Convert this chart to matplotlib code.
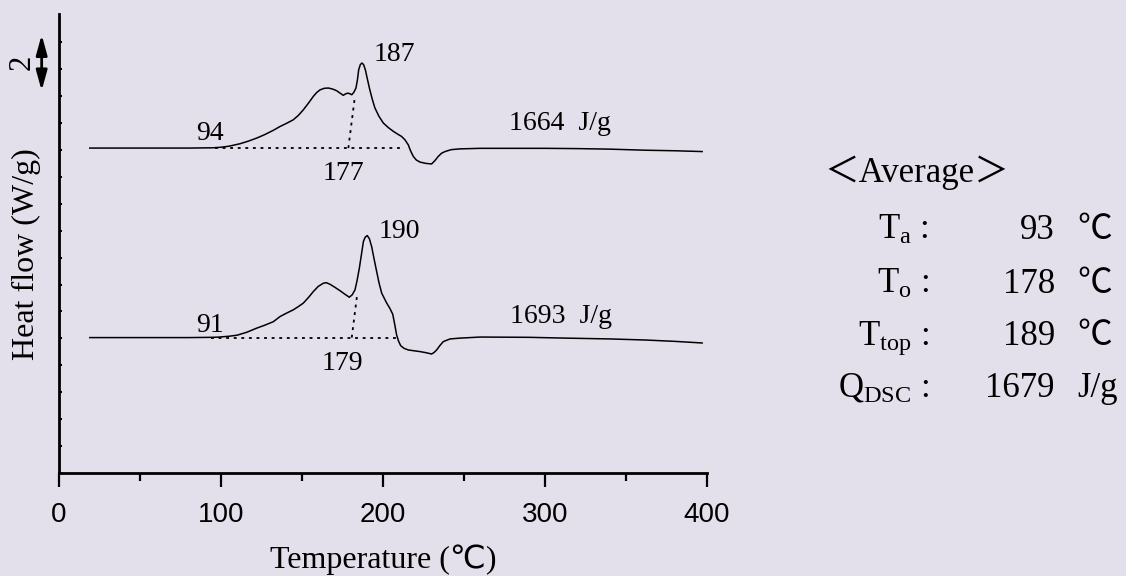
import matplotlib
matplotlib.use("Agg")
import matplotlib.pyplot as plt

plt.rcParams["font.family"] = ["Liberation Serif", "DejaVu Serif", "DejaVu Sans"]
plt.rcParams["mathtext.fontset"] = "custom"
plt.rcParams["mathtext.rm"] = "Liberation Serif"
plt.rcParams["mathtext.it"] = "Liberation Serif:italic"

BG = "#E3E0EB"

# run 1 (upper trace), temperature in degC and heat flow in W/g (offset)
temp_1 = [19, 40, 60, 80, 95, 100, 105, 111.7, 117, 122, 127, 132.3, 136.4,
          140.5, 144.6, 147.7, 150.8, 154, 157, 159, 161.1, 163.7, 166.3, 169,
          171.4, 173.5, 175.5, 176.8, 178.2, 179.5, 180.7, 182, 183.3, 184.2,
          185, 186, 187, 188, 189.1, 190.3, 191.6, 193.3, 195, 197.5, 200.2,
          203.3, 206.4, 209, 211.5, 213.5, 215.6, 217, 218.7, 220.5, 222.8,
          226.5, 230, 232, 234.1, 236.2, 238.3, 242, 247.5, 260, 280, 300,
          320, 340, 362, 380, 397]
flow_1 = [12.07, 12.07, 12.07, 12.07, 12.08, 12.10, 12.14, 12.23, 12.33, 12.44,
          12.57, 12.73, 12.87, 12.99, 13.12, 13.28, 13.49, 13.74, 13.99, 14.13,
          14.23, 14.29, 14.30, 14.26, 14.20, 14.11, 14.03, 14.08, 14.11, 14.09,
          14.05, 14.14, 14.30, 14.60, 14.98, 15.17, 15.23, 15.17, 14.98, 14.65,
          14.30, 13.90, 13.56, 13.25, 13.00, 12.83, 12.69, 12.59, 12.50, 12.38,
          12.19, 11.97, 11.76, 11.63, 11.55, 11.50, 11.48, 11.60, 11.76, 11.88,
          11.94, 12.01, 12.04, 12.06, 12.06, 12.06, 12.05, 12.03, 11.99, 11.97,
          11.94]

# run 2 (lower trace)
temp_2 = [19, 40, 60, 80, 95, 99, 105, 110, 116, 122, 127, 132.3, 136.4, 140.5,
          144.6, 147.7, 150.8, 154, 157, 160, 163.2, 165, 167.3, 170.5, 173.5,
          176.5, 179.2, 181, 182.7, 184, 185.4, 186.7, 187.9, 189, 190.3, 191.6,
          193, 194.5, 196.1, 197.6, 199.2, 202.3, 204.2, 206, 207.3, 208.4,
          209.6, 210.9, 213, 215.6, 222.8, 226.5, 230, 231.6, 233.1, 235.2,
          237.2, 241.4, 247.5, 260, 290, 313, 340, 362, 380, 397]
flow_2 = [5.03, 5.03, 5.03, 5.03, 5.04, 5.05, 5.08, 5.12, 5.23, 5.38, 5.49,
          5.62, 5.81, 5.94, 6.06, 6.18, 6.31, 6.52, 6.74, 6.93, 7.05, 7.07,
          7.01, 6.89, 6.77, 6.64, 6.53, 6.62, 6.80, 7.15, 7.61, 8.12, 8.60,
          8.76, 8.82, 8.70, 8.41, 7.95, 7.48, 7.05, 6.68, 6.31, 6.12, 5.90,
          5.50, 5.13, 4.90, 4.73, 4.63, 4.57, 4.51, 4.47, 4.42, 4.48, 4.57,
          4.74, 4.88, 4.98, 5.01, 5.05, 5.04, 5.01, 4.98, 4.94, 4.89, 4.83]

# construction lines: baseline span and onset tangent (x pairs, y pairs)
base_1_x = [96, 213]
base_1_y = [12.07, 12.07]
tang_1_x = [178.6, 182.7]
tang_1_y = [12.07, 14.0]
base_2_x = [94, 208.4]
base_2_y = [5.03, 5.03]
tang_2_x = [180.7, 184.2]
tang_2_y = [5.03, 6.7]

# annotation texts: (text, x, baseline y)
notes = [
    ("94", 93.2, 12.38), ("177", 175.3, 10.89), ("187", 206.8, 15.29),
    ("1664  J/g", 309.3, 12.73),
    ("91", 93.2, 5.25), ("179", 174.7, 3.83), ("190", 209.9, 8.72),
    ("1693  J/g", 310.0, 5.56),
]

avg_labels = [r"$\mathrm{T_a}$ :", r"$\mathrm{T_o}$ :", r"$\mathrm{T_{top}}$ :",
              r"$\mathrm{Q_{DSC}}$ :"]
avg_values = ["93", "178", "189", "1679"]
avg_units = ["℃", "℃", "℃", "J/g"]

W, H = 1126, 576


def fx(px):
    return px / W


def fy(py):
    return 1 - py / H


fig = plt.figure(figsize=(W / 100, H / 100), dpi=100)
fig.patch.set_facecolor(BG)
ax = fig.add_axes([fx(59), fy(473), 648 / W, 459 / H])
ax.set_facecolor(BG)

ax.plot(temp_1, flow_1, color="black", lw=1.1)
ax.plot(temp_2, flow_2, color="black", lw=1.1)
dots = dict(color="black", lw=1.3, linestyle=(0, (1.6, 2.6)))
for xs, ys in ((base_1_x, base_1_y), (tang_1_x, tang_1_y),
               (base_2_x, base_2_y), (tang_2_x, tang_2_y)):
    ax.plot(xs, ys, **dots)

for txt, x, y in notes:
    ax.text(x, y, txt, ha="center", va="baseline", fontsize=20)

ax.set_xlim(0, 400)
ax.set_ylim(0, 17.05)
for side in ("top", "right"):
    ax.spines[side].set_visible(False)
for side in ("left", "bottom"):
    ax.spines[side].set_linewidth(2)

ax.set_xticks([0, 100, 200, 300, 400])
ax.set_xticks([50, 150, 250, 350], minor=True)
ax.tick_params(axis="x", which="major", direction="out", length=10, width=1.6,
               pad=11, labelsize=20)
ax.tick_params(axis="x", which="minor", direction="out", length=6, width=1.6)
for lab in ax.get_xticklabels():
    lab.set_fontfamily("Liberation Sans")
ax.set_yticks(range(0, 17))
ax.tick_params(axis="y", which="major", direction="in", length=2.5, width=1.5,
               labelleft=False)

# scale bar: 2 W/g
ax.annotate("", xy=(-10.7, 14.2), xytext=(-10.7, 16.28),
            arrowprops=dict(arrowstyle="<|-|>,head_length=0.8,head_width=0.22",
                            mutation_scale=15, lw=2, color="black",
                            shrinkA=0, shrinkB=0),
            annotation_clip=False)
ax.text(-23, 15.24, "2", rotation=90, ha="center", va="center", fontsize=22,
        clip_on=False)

fig.text(fx(383), fy(568), "Temperature (℃)", ha="center", va="baseline",
         fontsize=23, family=["Liberation Serif", "DejaVu Sans"])
fig.text(fx(26), fy(254), "Heat flow (W/g)", rotation=90, ha="center",
         va="center", fontsize=23)

# average panel
fig.text(fx(917), fy(182), "＜Average＞", ha="center", va="baseline",
         fontsize=25, family=["Liberation Serif", "Noto Sans CJK JP"])
row_base = [239, 293, 345, 397]
for lab, val, unit, yb in zip(avg_labels, avg_values, avg_units, row_base):
    fig.text(fx(929), fy(yb), lab, ha="right", va="baseline", fontsize=25)
    fig.text(fx(1055), fy(yb), val, ha="right", va="baseline", fontsize=25)
    fig.text(fx(1077), fy(yb), unit, ha="left", va="baseline", fontsize=25,
             family=["Liberation Serif", "Noto Sans CJK JP"])

fig.savefig("out.png", dpi=100, facecolor=BG)
